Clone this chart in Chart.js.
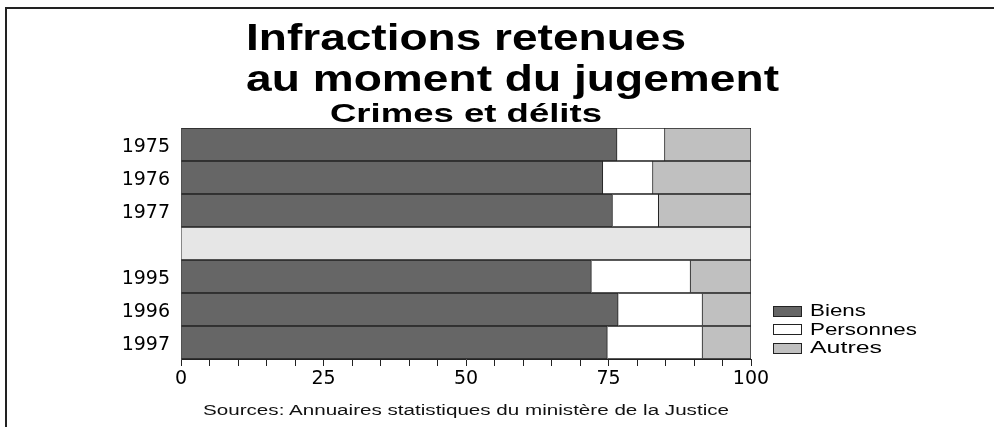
<!DOCTYPE html>
<html>
<head>
<meta charset="utf-8">
<script src="https://cdn.jsdelivr.net/npm/chart.js@4.4.1/dist/chart.umd.min.js"></script>
<style>
  html, body { margin: 0; padding: 0; background: #fff; }
  #page { position: relative; width: 994px; height: 427px; overflow: hidden; background: #fff; }
  #frame { position: absolute; left: 5px; top: 7px; width: 2000px; height: 1000px;
           border-left: 2px solid #222; border-top: 2px solid #222; }
  #chartBox { position: absolute; left: 0; top: 0; width: 994px; height: 427px; }
  .txt { position: absolute; white-space: nowrap; transform-origin: 0 0; color: #000;
         font-family: 'Liberation Sans', Arial, sans-serif; }
  .title { font-weight: bold; font-size: 37px; line-height: 37px; }
  .sub { font-weight: bold; font-size: 26px; line-height: 26px; }
  .src { font-size: 14px; line-height: 14px; color: #111; }
  #legend { position: absolute; left: 773px; top: 302px; }
  .lg { position: absolute; left: 0; height: 18px; display: flex; align-items: center; white-space: nowrap; }
  .lg .box { width: 27px; height: 9px; border: 1px solid #222; }
  .lg .lab { margin-left: 8px; font-family: 'Liberation Sans', Arial, sans-serif; font-size: 16px; line-height: 16px;
             color: #000; transform-origin: 0 50%; display: inline-block; }
</style>
</head>
<body>
<div id="page">
  <div id="frame"></div>
  <div id="chartBox"><canvas id="c" width="994" height="427"></canvas></div>
  <div class="txt title" style="left:246px; top:19px;" data-w="440">Infractions retenues</div>
  <div class="txt title" style="left:246px; top:60px;" data-w="533">au moment du jugement</div>
  <div class="txt sub" style="left:330px; top:100px;" data-w="272">Crimes et délits</div>
  <div class="txt src" style="left:203px; top:403px;" data-w="526">Sources: Annuaires statistiques du ministère de la Justice</div>
  <div id="legend"></div>
</div>
<script>
// ---- data ----
const years = ['1975', '1976', '1977', '', '1995', '1996', '1997'];
const biens = [76.5, 74.0, 75.7, null, 72.0, 76.7, 74.8];
const personnes = [8.4, 8.8, 8.1, null, 17.4, 14.8, 16.7];
const autres = [15.1, 17.2, 16.2, null, 10.6, 8.5, 8.5];
const separation = [null, null, null, 100, null, null, null];
const seriesNames = ['Biens', 'Personnes', 'Autres'];
const xTickLabels = [0, 25, 50, 75, 100];

const colors = ['#666666', '#ffffff', '#c0c0c0'];

const chart = new Chart(document.getElementById('c'), {
  type: 'bar',
  data: {
    labels: years,
    datasets: [
      { label: seriesNames[0], data: biens, backgroundColor: colors[0] },
      { label: seriesNames[1], data: personnes, backgroundColor: colors[1] },
      { label: seriesNames[2], data: autres, backgroundColor: colors[2] },
      { label: 'separation', data: separation, backgroundColor: '#e6e6e6' }
    ].map(d => Object.assign(d, {
      borderColor: '#222', borderWidth: 1, barPercentage: 1, categoryPercentage: 1
    }))
  },
  options: {
    indexAxis: 'y',
    responsive: false,
    animation: false,
    devicePixelRatio: 1,
    layout: { padding: { top: 128, right: 243, bottom: 38, left: 0 } },
    plugins: { legend: { display: false }, tooltip: { enabled: false }, title: { display: false } },
    scales: {
      x: {
        type: 'linear', stacked: true, min: 0, max: 100, position: 'bottom',
        afterFit: s => { s.height = 30; },
        ticks: {
          stepSize: 5, autoSkip: false, maxRotation: 0, padding: 2, color: '#000',
          font: { family: 'DejaVu Sans', size: 19 },
          callback: v => xTickLabels.includes(v) ? String(v) : ''
        },
        grid: { drawOnChartArea: false, drawTicks: true, tickLength: 7, color: '#222', lineWidth: 1 },
        border: { display: true, color: '#222', width: 1 }
      },
      y: {
        type: 'category', stacked: true,
        afterFit: s => { s.width = 181; },
        ticks: { padding: 11, color: '#000', labelOffset: 3, font: { family: 'DejaVu Sans', size: 19 } },
        grid: { display: false, drawTicks: false },
        border: { display: true, color: '#444', width: 1 }
      }
    }
  }
});

// HTML legend built from the chart's datasets
const legend = document.getElementById('legend');
chart.data.datasets.slice(0, 3).forEach((ds, i) => {
  const row = document.createElement('div');
  row.className = 'lg';
  row.style.top = (i * 18.5) + 'px';
  row.innerHTML = '<span class="box" style="background:' + ds.backgroundColor + '"></span>' +
                  '<span class="lab" data-w="' + [56, 107, 72][i] + '">' + ds.label + '</span>';
  legend.appendChild(row);
});

function fit() {
  document.querySelectorAll('[data-w]').forEach(el => {
    const w = el.getBoundingClientRect().width;
    if (w > 0) el.style.transform = 'scaleX(' + (parseFloat(el.dataset.w) / w) + ')';
  });
}
fit();
</script>
</body>
</html>
